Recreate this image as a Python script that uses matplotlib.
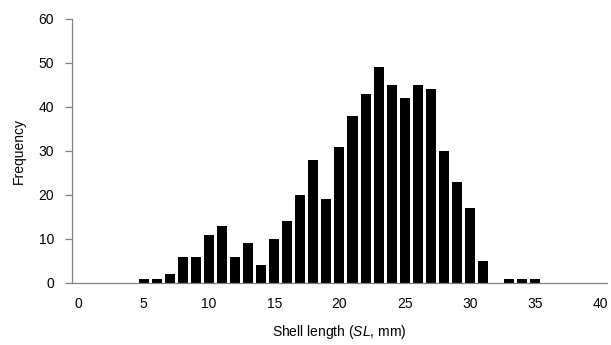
import matplotlib
matplotlib.use('Agg')
import matplotlib.pyplot as plt

# shell length classes (mm) and counts
lengths = [5, 6, 7, 8, 9, 10, 11, 12, 13, 14, 15, 16, 17, 18, 19, 20,
           21, 22, 23, 24, 25, 26, 27, 28, 29, 30, 31, 32, 33, 34, 35]
freq = [1, 1, 2, 6, 6, 11, 13, 6, 9, 4, 10, 14, 20, 28, 19, 31,
        38, 43, 49, 45, 42, 45, 44, 30, 23, 17, 5, 0, 1, 1, 1]
xticks = [0, 5, 10, 15, 20, 25, 30, 35, 40]
yticks = [0, 10, 20, 30, 40, 50, 60]

plt.rcParams['font.family'] = ['Liberation Sans', 'DejaVu Sans']
plt.rcParams['mathtext.fontset'] = 'custom'
plt.rcParams['mathtext.rm'] = 'Liberation Sans'
plt.rcParams['mathtext.it'] = 'Liberation Sans:italic'

fig = plt.figure(figsize=(6.11, 3.45), dpi=100)
ax = fig.add_axes([0.1178, 0.18, 0.8756, 0.765])

ax.bar(lengths, freq, width=0.77, color='black')

ax.set_xlim(-0.5, 40.5)
ax.set_ylim(0, 60)
ax.set_xticks(xticks)
ax.set_yticks(yticks)
ax.tick_params(axis='x', length=0, pad=10, labelsize=10)
ax.tick_params(axis='y', length=5, width=0.9, color='#808080', pad=8, labelsize=10)

for s in ['top', 'right']:
    ax.spines[s].set_visible(False)
for s in ['left', 'bottom']:
    ax.spines[s].set_color('#808080')
    ax.spines[s].set_linewidth(0.9)

ax.set_xlabel(r'Shell length ($\mathit{SL}$, mm)', fontsize=10, labelpad=9)
ax.set_ylabel('Frequency', fontsize=10, labelpad=9)

plt.savefig('out.png', dpi=100)
